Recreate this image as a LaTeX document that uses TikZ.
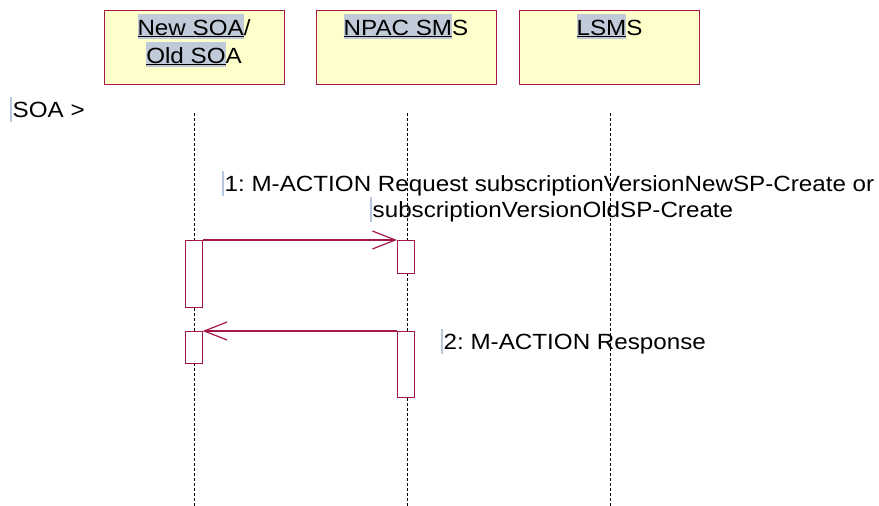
\documentclass[tikz,border=0pt]{standalone}
\usepackage{fontspec}
\setmainfont{Liberation Sans}[FakeStretch=1.1]
\usetikzlibrary{arrows.meta}
\definecolor{umlred}{RGB}{165,25,70}
\definecolor{umlfill}{RGB}{255,255,204}
\definecolor{hlblue}{RGB}{192,202,216}
\definecolor{curblue}{RGB}{184,200,220}
\newcommand{\hlu}[1]{{\setlength{\fboxsep}{0pt}\colorbox{hlblue}{\rule[-4pt]{0pt}{25pt}\underline{#1}}}}
\newcommand{\cur}{\textcolor{curblue}{\rule[-5pt]{1.5pt}{25pt}}\hspace{1pt}}
\frenchspacing
\begin{document}
\begin{tikzpicture}[x=1pt, y=-1pt, font=\fontsize{22}{26}\selectfont,
  hdr/.style={draw=umlred, fill=umlfill, line width=1pt, minimum width=180pt, minimum height=74pt, inner sep=0pt},
  act/.style={draw=umlred, fill=white, line width=1pt, minimum width=17pt, inner sep=0pt, anchor=north},
  life/.style={dash pattern=on 3pt off 2pt, line width=0.7pt},
  msg/.style={draw=umlred, line width=1.2pt, -{Straight Barb[length=23pt, width=18pt]}},
  txt/.style={inner sep=0pt}]
  \useasboundingbox (0,0) rectangle (879,506);

  % header boxes
  \node[hdr] (soa) at (194,47) {};
  \node[hdr] (npac) at (406,47) {};
  \node[hdr] (lsms) at (609.5,47) {};
  \node[txt, anchor=base] (soa-t1) at (194,35) {\hlu{New SOA}/};
  \node[txt, anchor=base] (soa-t2) at (194,63) {\hlu{Old SO}A};
  \node[txt, anchor=base] (npac-t) at (406,35) {\hlu{NPAC SM}S};
  \node[txt, anchor=base] (lsms-t) at (609.5,35) {\hlu{LSM}S};

  % lifelines
  \foreach \n/\x in {soa/194, npac/407, lsms/610} {
    \coordinate (\n-top) at (\x,113);
    \coordinate (\n-bot) at (\x,506);
    \draw[life] (\n-top) -- (\n-bot);
  }

  % activations
  \node[act, minimum height=67pt] (soa-act1) at (193.5,240) {};
  \node[act, minimum height=33pt] (npac-act1) at (406,240) {};
  \node[act, minimum height=32pt] (soa-act2) at (193.5,331) {};
  \node[act, minimum height=66pt] (npac-act2) at (406,331) {};

  % messages
  \draw[msg] (soa-act1.north east) -- (npac-act1.north west);
  \draw[msg] (npac-act2.north west) -- (soa-act2.north east);

  % labels
  \node[txt, anchor=base west] (soa-lbl) at (10,117) {\cur SOA >};
  \node[txt, anchor=base west] (msg1-a) at (222,191) {\cur 1: M-ACTION Request subscriptionVersionNewSP-Create or};
  \node[txt, anchor=base west] (msg1-b) at (370,217) {\cur subscriptionVersionOldSP-Create};
  \node[txt, anchor=base west] (msg2) at (441,349) {\cur 2: M-ACTION Response};
\end{tikzpicture}
\end{document}
